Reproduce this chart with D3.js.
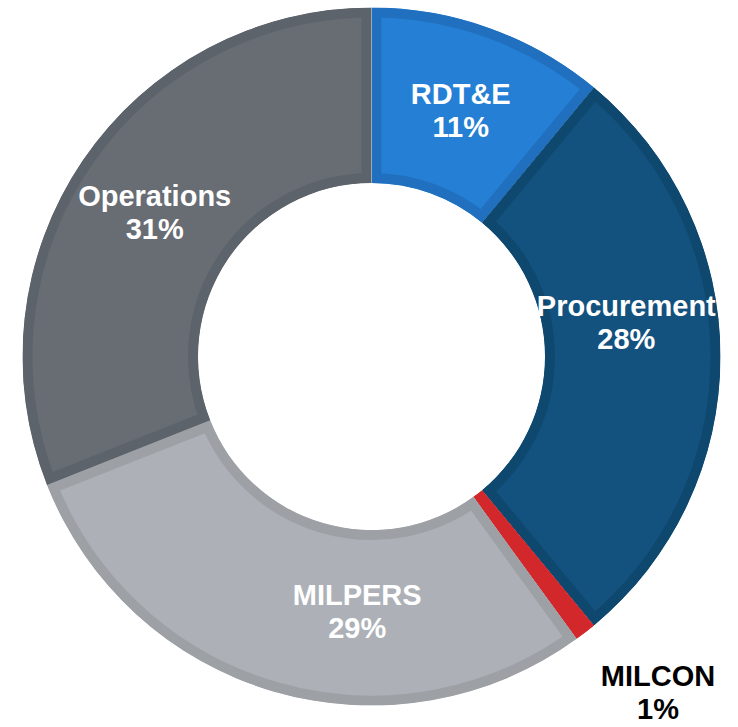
<!DOCTYPE html>
<html>
<head>
<meta charset="utf-8">
<script src="https://cdn.jsdelivr.net/npm/d3@7"></script>
<style>
  body { margin: 0; background: #fff; }
  svg { display: block; }
  .lbl { font-family: "Liberation Sans", Arial, sans-serif; font-weight: bold; font-size: 29px; }
</style>
</head>
<body>
<div id="chart"></div>
<script>
// budget shares, clockwise from 12 o'clock
var categories = ["RDT&E", "Procurement", "MILCON", "MILPERS", "Operations"];
var shares = [11, 28, 1, 29, 31];

// colours
var fills = ["#2580d5", "#13527e", "#d72a2d", "#adb1b7", "#686d74"];
var borders = ["#2070bf", "#0f486f", "#d2282b", "#9da1a5", "#5d636a"];
var textColors = ["#fff", "#fff", "#000", "#fff", "#fff"];

// label placement (angle in degrees clockwise from top, distance from centre)
var labelAngles = [20, 82.5, 139.6, 183.2, 303.5];
var labelRadii = [261, 257, 442, 256, 260];

var width = 738, height = 727;
var cx = 371.5, cy = 356.5;
var outerR = 349, innerR = 173.5;

var svg = d3.select("#chart").append("svg")
    .attr("width", width)
    .attr("height", height);

var g = svg.append("g").attr("transform", "translate(" + cx + "," + cy + ")");

var pie = d3.pie().sort(null).value(function(d){ return d; });
var arc = d3.arc().innerRadius(innerR).outerRadius(outerR);
var arcs = pie(shares);

var defs = svg.append("defs");
arcs.forEach(function(a, i){
    defs.append("clipPath").attr("id", "clip" + i)
        .append("path").attr("d", arc(a));
});

// each slice gets a darker band along its inside edge
g.selectAll("path.slice")
    .data(arcs)
    .enter()
    .append("path")
      .attr("class", "slice")
      .attr("d", arc)
      .attr("clip-path", function(d, i){ return "url(#clip" + i + ")"; })
      .style("fill", function(d, i){ return fills[i]; })
      .style("stroke", function(d, i){ return borders[i]; })
      .style("stroke-width", 20);

// labels: name + percentage
var labels = g.selectAll("text.lbl")
    .data(arcs)
    .enter()
    .append("text")
      .attr("class", "lbl")
      .attr("text-anchor", "middle")
      .style("fill", function(d, i){ return textColors[i]; })
      .attr("transform", function(d, i){
          var t = labelAngles[i] * Math.PI / 180;
          var x = labelRadii[i] * Math.sin(t);
          var y = -labelRadii[i] * Math.cos(t);
          return "translate(" + x + "," + y + ")";
      });

labels.append("tspan")
    .attr("x", 0).attr("y", -7)
    .text(function(d, i){ return categories[i]; });
labels.append("tspan")
    .attr("x", 0).attr("y", 26)
    .text(function(d, i){ return shares[i] + "%"; });
</script>
</body>
</html>
